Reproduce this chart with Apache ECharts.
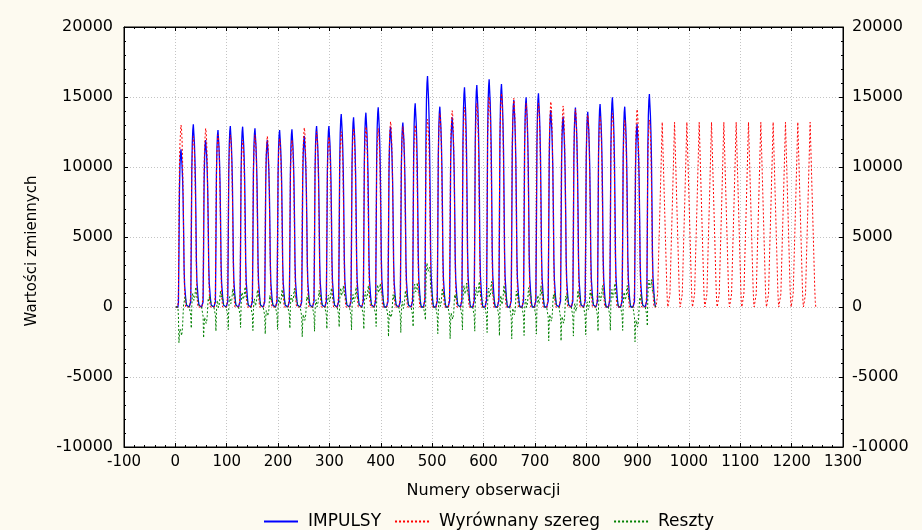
<!DOCTYPE html>
<html>
<head>
<meta charset="utf-8">
<script src="https://cdn.jsdelivr.net/npm/echarts@6/dist/echarts.min.js"></script>
<style>
  html, body { margin: 0; padding: 0; background: #fdfaf0; }
  #chart { width: 922px; height: 530px; }
</style>
</head>
<body>
<div id="chart"></div>
<script>
// Hourly observations: 24 per day, 39 observed days followed by 13 forecast days.
const HOURS_PER_DAY = 24;

// Daily peak of the observed pulse count (IMPULSY), one value per day.
const observedPeaks = [
  11260, 13050, 11930, 12640, 12930, 12880, 12760, 11930, 12640, 12690,
  12210, 12930, 12930, 13790, 13550, 13880, 14260, 12880, 13170, 14550,
  16500, 14310, 13550, 15690, 15860, 16260, 15930, 14790, 14980, 15260,
  14070, 13600, 14240, 13950, 14500, 14980, 14310, 13070, 15210
];

// Daily peak of the fitted series over the observed days.
const fittedPeaks = [
  13000, 12170, 12760, 12290, 12290, 11930, 12290, 12210, 12050, 11930,
  12810, 12520, 12170, 12520, 12760, 12880, 12760, 13240, 12880, 13000,
  13400, 13830, 14020, 14260, 14550, 15020, 15260, 14900, 14550, 14550,
  14670, 14360, 14120, 13710, 13600, 13830, 13360, 14120, 13360
];

// Daily peak of the forecast continuation.
const forecastPeaks = [
  13200, 13200, 13200, 13200, 13200, 13200, 13200,
  13200, 13200, 13200, 13200, 13200, 13200
];

// Within-day profile (share of the daily peak) for hours 1..24.
const observedShape = [
  0, 0, 0, 0, 0, 0.03, 0.35, 0.75, 0.9, 0.97, 1.0, 0.95,
  0.9, 0.82, 0.7, 0.5, 0.25, 0.14, 0.1, 0.06, 0.03, 0.01, 0, 0
];
const fittedShape = [
  0, 0, 0, 0, 0, 0.08, 0.5, 0.8, 0.9, 0.96, 1.0, 0.98,
  0.92, 0.82, 0.65, 0.42, 0.2, 0.08, 0.03, 0, 0, 0, 0, 0
];
const forecastShape = [
  0, 0, 0.07, 0.17, 0.28, 0.38, 0.48, 0.58, 0.69, 0.79, 0.9, 1.0,
  0.9, 0.8, 0.7, 0.6, 0.5, 0.4, 0.3, 0.2, 0.1, 0.03, 0, 0
];

// Axis ranges and tick steps.
const xRange = [-100, 1300];
const xStep = 100;
const yRange = [-10000, 20000];
const yStep = 5000;

const seriesNames = ['IMPULSY', 'Wyrównany szereg', 'Reszty'];

// Expand daily peaks into hourly [observation number, value] points.
function hourly(peaks, shape, firstDay) {
  const pts = [];
  peaks.forEach(function (peak, d) {
    shape.forEach(function (share, h) {
      pts.push([(firstDay + d) * HOURS_PER_DAY + h + 1, Math.round(peak * share)]);
    });
  });
  return pts;
}

const observed = hourly(observedPeaks, observedShape, 0);
const fitted = hourly(fittedPeaks, fittedShape, 0)
  .concat(hourly(forecastPeaks, forecastShape, observedPeaks.length));
// Residuals: observed minus fitted, over the observed range only.
const residuals = observed.map(function (p, i) { return [p[0], p[1] - fitted[i][1]]; });

const FONT = 'DejaVu Sans';
const plain = function (v) { return String(v); };
const gridLine = { show: true, lineStyle: { color: '#c4c4c4', type: [1, 2], width: 1 } };

function xAxisDef(position, showLabels) {
  return {
    type: 'value', position: position, min: xRange[0], max: xRange[1], interval: xStep,
    axisLine: { show: true, onZero: false, lineStyle: { color: '#000', width: 1 } },
    axisTick: { show: true, inside: true, length: 4, lineStyle: { color: '#000' } },
    minorTick: { show: true, splitNumber: 5, length: 2, lineStyle: { color: '#000' } },
    axisLabel: { show: showLabels, color: '#000', fontFamily: FONT, fontSize: 15, margin: 8,
                 formatter: plain, showMinLabel: true, showMaxLabel: true },
    splitLine: showLabels ? gridLine : { show: false },
    name: showLabels ? 'Numery obserwacji' : '',
    nameLocation: 'middle', nameGap: 36,
    nameTextStyle: { color: '#000', fontFamily: FONT, fontSize: 16 }
  };
}

function yAxisDef(position, isLeft) {
  return {
    type: 'value', position: position, min: yRange[0], max: yRange[1], interval: yStep,
    axisLine: { show: true, onZero: false, lineStyle: { color: '#000', width: 1 } },
    axisTick: { show: true, inside: true, length: 4, lineStyle: { color: '#000' } },
    minorTick: { show: true, splitNumber: 5, length: 2, lineStyle: { color: '#000' } },
    axisLabel: { show: true, color: '#000', fontFamily: FONT, fontSize: 16, margin: isLeft ? 11 : 9,
                 formatter: plain, showMinLabel: true, showMaxLabel: true },
    splitLine: isLeft ? gridLine : { show: false },
    name: isLeft ? 'Wartości zmiennych' : '',
    nameLocation: 'middle', nameGap: 84,
    nameTextStyle: { color: '#000', fontFamily: FONT, fontSize: 15, padding: [0, 28, 0, 0] }
  };
}

const chart = echarts.init(document.getElementById('chart'), null, { renderer: 'canvas' });
chart.setOption({
  backgroundColor: '#fdfaf0',
  animation: false,
  grid: {
    left: 124, right: 79, top: 27, bottom: 83, containLabel: false,
    show: true, backgroundColor: '#ffffff', borderColor: '#000', borderWidth: 1
  },
  legend: {
    left: 258, top: 508, itemWidth: 34, itemHeight: 14, itemGap: 13,
    itemStyle: { opacity: 0 },
    textStyle: { color: '#000', fontFamily: FONT, fontSize: 17, padding: [0, 0, 0, 5] },
    data: seriesNames
  },
  xAxis: [xAxisDef('bottom', true), xAxisDef('top', false)],
  yAxis: [yAxisDef('left', true), yAxisDef('right', false)],
  series: [
    {
      name: seriesNames[0], type: 'line', data: observed, showSymbol: false, symbol: 'none',
      lineStyle: { color: '#0000ff', width: 1.3 }, itemStyle: { color: '#0000ff' }, z: 2
    },
    {
      name: seriesNames[1], type: 'line', data: fitted, showSymbol: false, symbol: 'none',
      lineStyle: { color: '#ff0000', width: 1, type: [2, 2] }, itemStyle: { color: '#ff0000' }, z: 3
    },
    {
      name: seriesNames[2], type: 'line', data: residuals, showSymbol: false, symbol: 'none',
      lineStyle: { color: '#008000', width: 1, type: [2, 2] }, itemStyle: { color: '#008000' }, z: 4
    }
  ]
});
</script>
</body>
</html>
